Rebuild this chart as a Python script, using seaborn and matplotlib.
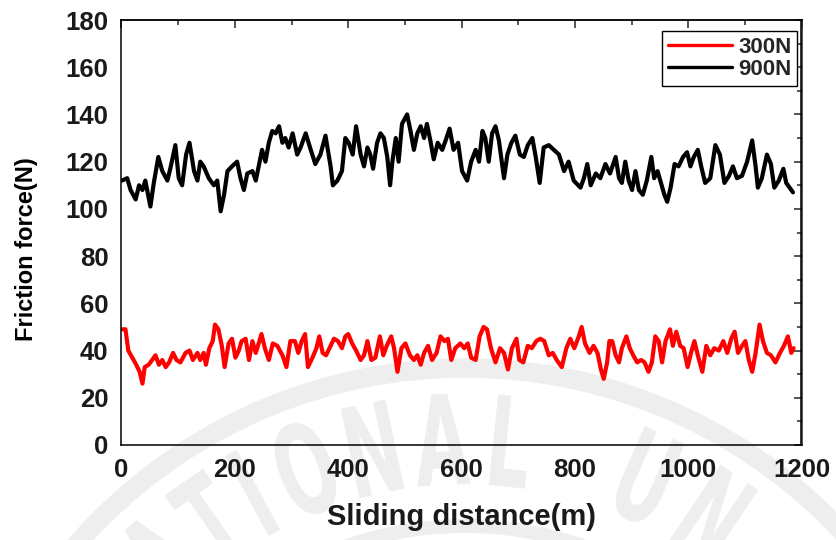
import numpy as np
import pandas as pd
import matplotlib
matplotlib.use('Agg')
import matplotlib.pyplot as plt
import matplotlib.transforms as mtransforms
from matplotlib.ticker import MultipleLocator
from matplotlib.patches import Circle, PathPatch
from matplotlib.textpath import TextPath
from matplotlib.font_manager import FontProperties
import seaborn as sns

# friction force traces (sliding distance in m, force in N)
dist_300 = [2, 7, 12, 19, 26, 32, 37, 41, 48, 54, 60, 66, 72, 78, 84, 91, 97, 104, 113, 120,
            126, 134, 139, 145, 149, 155, 161, 165, 171, 177, 182, 189, 195, 201, 207, 212, 219,
            225, 231, 237, 247, 253, 260, 267, 275, 284, 291, 298, 306, 312, 318, 324, 329, 337,
            344, 349, 355, 361, 369, 375, 382, 389, 395, 400, 407, 414, 422, 428, 434, 441, 448,
            456, 462, 468, 476, 481, 487, 494, 501, 509, 516, 522, 528, 534, 541, 548, 556, 563,
            570, 576, 582, 589, 598, 605, 611, 617, 625, 632, 639, 645, 652, 660, 668, 675, 682,
            689, 697, 702, 709, 717, 724, 732, 739, 746, 754, 761, 768, 777, 785, 792, 799, 807,
            812, 818, 826, 833, 840, 846, 851, 857, 861, 866, 872, 878, 883, 891, 897, 903, 910,
            917, 923, 930, 936, 942, 948, 954, 960, 968, 973, 979, 986, 992, 999, 1005, 1011,
            1017, 1025, 1032, 1039, 1046, 1054, 1062, 1069, 1076, 1082, 1088, 1095, 1101, 1107,
            1113, 1119, 1126, 1132, 1139, 1146, 1154, 1162, 1169, 1176, 1182, 1186]
force_300 = [49, 49, 40, 37, 34, 31, 26, 33, 34, 36, 38, 34, 36, 33, 35, 39, 36, 35, 39, 40,
             36, 39, 36, 39, 34, 41, 44, 51, 49, 42, 33, 43, 45, 37, 40, 44, 45,
             36, 44, 39, 47, 41, 36, 43, 42, 38, 33, 44, 44, 39, 44, 47, 33, 37,
             41, 46, 39, 38, 42, 45, 44, 41, 46, 47, 43, 40, 36, 38, 44, 36, 37,
             46, 38, 42, 46, 41, 31, 41, 43, 38, 36, 38, 34, 39, 42, 36, 39, 46,
             44, 45, 36, 41, 43, 41, 43, 37, 36, 46, 50, 49, 41, 35, 41, 39, 32,
             41, 45, 36, 35, 42, 41, 44, 45, 44, 38, 39, 36, 33, 41, 45, 41, 46,
             50, 43, 39, 42, 39, 32, 28, 35, 44, 44, 38, 35, 41, 46, 41, 38, 35,
             36, 35, 31, 35, 46, 44, 35, 44, 49, 42, 48, 42, 41, 33, 39, 44,
             38, 31, 42, 38, 41, 40, 44, 39, 45, 48, 39, 42, 44, 36,
             31, 39, 51, 44, 39, 38, 35, 39, 42, 46, 39, 41]

dist_900 = [1, 10, 16, 25, 31, 37, 42, 51, 57, 65, 72, 81, 87, 95, 101, 107, 114, 120, 128,
            134, 139, 145, 154, 163, 169, 175, 181, 187, 195, 204, 210, 216, 222, 231, 237, 242,
            248, 254, 260, 266, 272, 278, 284, 289, 295, 302, 310, 316, 325, 334, 342, 351, 360,
            369, 373, 381, 389, 395, 401, 408, 414, 422, 428, 434, 439, 444, 451, 457, 463, 469,
            474, 478, 484, 489, 495, 504, 510, 516, 522, 528, 534, 539, 545, 551, 558, 566, 572,
            579, 586, 594, 601, 610, 617, 625, 631, 637, 642, 648, 654, 660, 666, 675, 681, 688,
            695, 703, 710, 717, 725, 731, 738, 745, 754, 763, 772, 781, 789, 798, 810, 816, 822,
            828, 837, 845, 854, 862, 872, 878, 883, 889, 895, 901, 907, 913, 920, 927, 935, 940,
            946, 952, 958, 963, 969, 976, 983, 991, 998, 1004, 1010, 1017, 1023, 1030, 1039,
            1048, 1056, 1064, 1072, 1079, 1086, 1095, 1104, 1113, 1119, 1123, 1130, 1139, 1146,
            1152, 1160, 1168, 1173, 1179, 1185]
force_900 = [112, 113, 108, 104, 110, 108, 112, 101, 111, 122, 116, 112, 118, 127, 113, 110, 123, 128, 116,
             112, 120, 118, 113, 110, 112, 99, 106, 116, 118, 120, 113, 108, 115, 116, 112, 118,
             125, 120, 128, 133, 132, 135, 128, 130, 126, 132, 123, 126, 132, 125, 119, 123, 131,
             118, 110, 112, 116, 130, 128, 123, 135, 123, 118, 126, 123, 117, 128, 132, 130, 122,
             110, 120, 130, 120, 136, 140, 133, 125, 132, 135, 130, 136, 129, 121, 128, 125, 129,
             134, 125, 128, 116, 112, 120, 125, 120, 133, 130, 120, 132, 135, 129, 113, 123, 128,
             131, 123, 122, 127, 130, 122, 111, 126, 127, 125, 123, 116, 120, 112, 109, 113, 119,
             110, 115, 113, 119, 115, 122, 113, 111, 120, 112, 108, 116, 108, 106, 112, 122, 113,
             116, 111, 106, 103, 109, 119, 118, 122, 124, 118, 122, 125, 118, 111, 113,
             127, 123, 111, 114, 118, 113, 114, 120, 129, 118, 109, 113, 123, 119,
             109, 112, 117, 111, 109, 107]

df = pd.concat([
    pd.DataFrame({'distance': dist_300, 'force': force_300, 'load': '300N'}),
    pd.DataFrame({'distance': dist_900, 'force': force_900, 'load': '900N'}),
])

sns.set_style('white')
plt.rcParams['font.family'] = ['Liberation Sans', 'DejaVu Sans']
plt.rcParams['font.weight'] = 'bold'

W, H = 837, 540
fig = plt.figure(figsize=(W / 100, H / 100), dpi=100)
ax = fig.add_axes([121.5 / W, 95 / H, 680 / W, 425 / H])
ax.patch.set_alpha(0)

# faint seal watermark behind the plot
px = mtransforms.Affine2D().scale(1 / W, 1 / H) + fig.transFigure
wm = '#eeeeee'
cx, cy = 465, H - 884
for r, lw in [(516, 14), (358, 10)]:
    fig.patches.append(Circle((cx, cy), r, transform=px, fill=False, lw=lw, ec=wm, zorder=-5))
fp = FontProperties(family='DejaVu Sans', weight='bold')
letters = list('NATIONAL') + list('UN')
angles = [-52, -43, -35, -28.5, -21, -12, -3, 6, 24, 34]
for ch, th in zip(letters, angles):
    tp = TextPath((0, 0), ch, size=1, prop=fp)
    ext = tp.get_extents()
    t = (mtransforms.Affine2D()
         .translate(-(ext.x0 + ext.x1) / 2, -(ext.y0 + ext.y1) / 2)
         .scale(70, 125)
         .rotate_deg(-th)
         .translate(cx + 445 * np.sin(np.radians(th)), cy + 445 * np.cos(np.radians(th))))
    fig.patches.append(PathPatch(t.transform_path(tp), transform=px, fc=wm, ec='none', zorder=-5))

sns.lineplot(data=df, x='distance', y='force', hue='load', palette={'300N': '#ff0000', '900N': '#000000'},
             estimator=None, sort=False, linewidth=3.0, ax=ax)
for line in ax.get_lines():
    line.set_solid_joinstyle('round')

ax.set_xlim(0, 1200)
ax.set_ylim(0, 180)
ax.xaxis.set_major_locator(MultipleLocator(200))
ax.xaxis.set_minor_locator(MultipleLocator(100))
ax.yaxis.set_major_locator(MultipleLocator(20))
ax.yaxis.set_minor_locator(MultipleLocator(10))
ax.tick_params(which='both', direction='out', top=False, right=False, width=1.1, color='black',
               labelsize=18.5, labelcolor='#1a1a1a')
ax.tick_params(which='major', length=6)
ax.tick_params(which='minor', length=3.5)
for lab in ax.get_xticklabels() + ax.get_yticklabels():
    lab.set_fontweight('bold')

# mirrored ticks on top and right, pointing inward
top = ax.secondary_xaxis('top')
right = ax.secondary_yaxis('right')
for sec, axis in [(top, top.xaxis), (right, right.yaxis)]:
    axis.set_major_locator(MultipleLocator(200 if sec is top else 20))
    axis.set_minor_locator(MultipleLocator(100 if sec is top else 10))
    sec.tick_params(which='both', direction='in', width=1.1, labeltop=False, labelright=False)
    sec.tick_params(which='major', length=6)
    sec.tick_params(which='minor', length=3.5)
    for s in sec.spines.values():
        s.set_linewidth(1.1)
for s in ax.spines.values():
    s.set_visible(True)
    s.set_linewidth(1.1)
    s.set_color('black')

ax.set_xlabel('Sliding distance(m)', fontsize=21, fontweight='bold', color='#1a1a1a')
ax.xaxis.set_label_coords(0.5, -0.136)
ax.set_ylabel('Friction force(N)', fontsize=17, fontweight='bold', color='black')
ax.yaxis.set_label_coords(-0.123, 0.461)

handles, labels = ax.get_legend_handles_labels()
leg = ax.legend(handles, labels, loc='upper right', bbox_to_anchor=(0.994, 0.973), borderaxespad=0,
                fancybox=False, framealpha=1, edgecolor='black', handlelength=2.9, handletextpad=0.3,
                labelspacing=0.05, borderpad=0.25, prop={'weight': 'bold', 'size': 16})
leg.get_frame().set_linewidth(1.0)
for line in leg.get_lines():
    line.set_linewidth(2.4)

fig.savefig('out.png', dpi=100)
